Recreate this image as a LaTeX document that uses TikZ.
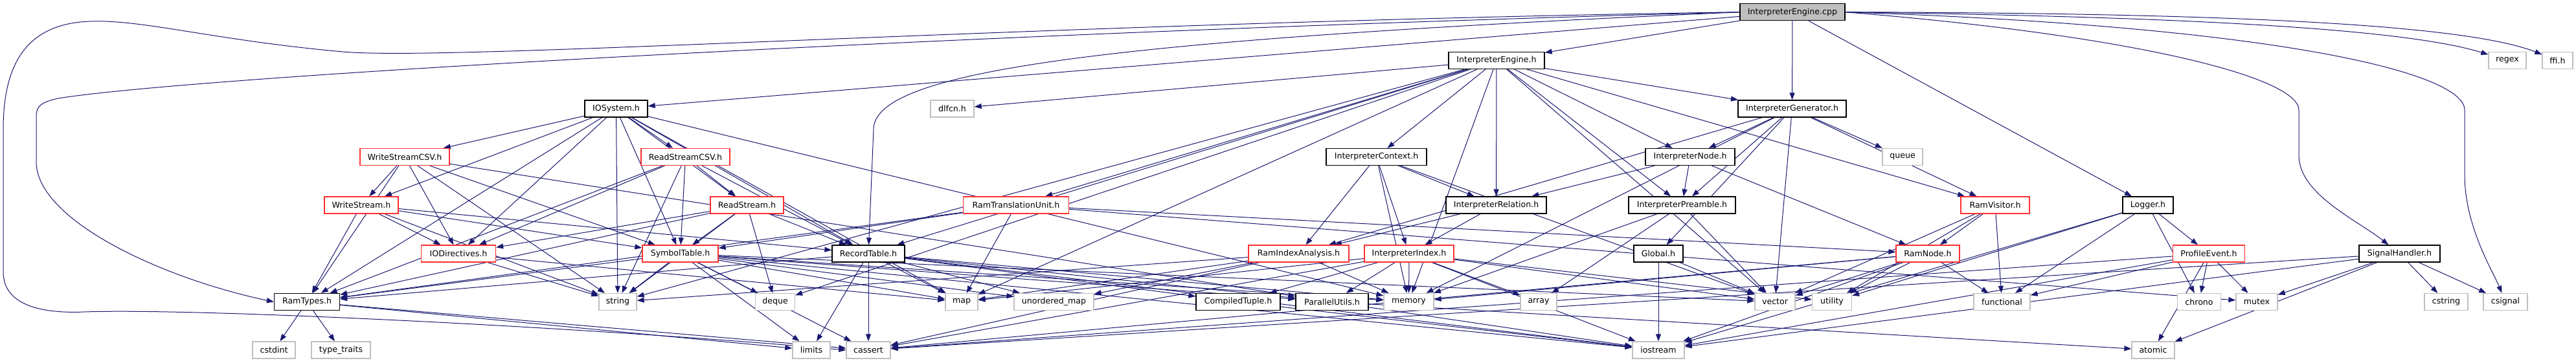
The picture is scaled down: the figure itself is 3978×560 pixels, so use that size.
\documentclass[tikz,border=0pt]{standalone}
\usepackage{fontspec}
\newfontfamily\djv{DejaVu Sans}
\usetikzlibrary{arrows.meta}
\pgfdeclarelayer{bg}
\pgfsetlayers{bg,main}
\definecolor{edgec}{HTML}{191970}
\definecolor{sysg}{HTML}{BFBFBF}
\definecolor{trunc}{HTML}{FF3030}
\tikzset{
  hn/.style={draw=black, fill=white, line width=1.3pt, minimum height=26pt, inner sep=0pt,
    font={\djv\fontsize{12.6}{14}\selectfont}},
  rn/.style={hn, draw=trunc},
  sn/.style={hn, draw=sysg},
  e/.style={draw=edgec, line width=1pt, -{Triangle[length=11pt,width=8pt]}}
}
\begin{document}
\begin{tikzpicture}[x=1pt,y=-1pt]
\useasboundingbox (0,0) rectangle (3978,560);
% rank 0
\node[hn, fill=sysg, minimum width=162pt] (cpp) at (2768,18.7) {InterpreterEngine.cpp};
% rank 1
\node[hn, minimum width=148pt] (IEh) at (2311,93.5) {InterpreterEngine.h};
\node[sn, minimum width=58pt] (regex) at (3872,93.5) {regex};
\node[sn, minimum width=47pt] (ffi) at (3949.5,93.5) {ffi.h};
% rank 2
\node[hn, minimum width=97pt] (IOSys) at (951.5,168) {IOSystem.h};
\node[sn, minimum width=67pt] (dlfcn) at (1470.5,168) {dlfcn.h};
\node[hn, minimum width=167pt] (IGen) at (2767.5,168) {InterpreterGenerator.h};
% rank 3
\node[rn, minimum width=138pt] (WSCSV) at (625,242.5) {WriteStreamCSV.h};
\node[rn, minimum width=137pt] (RSCSV) at (1058.5,242.5) {ReadStreamCSV.h};
\node[hn, minimum width=155pt] (ICtx) at (2125.5,242.5) {InterpreterContext.h};
\node[hn, minimum width=138pt] (INode) at (2610,242.5) {InterpreterNode.h};
\node[sn, minimum width=62pt] (queue) at (2938,242.5) {queue};
% rank 4
\node[rn, minimum width=114pt] (WS) at (558,317) {WriteStream.h};
\node[rn, minimum width=113pt] (RS) at (1153.5,317) {ReadStream.h};
\node[rn, minimum width=163pt] (RTU) at (1569,317) {RamTranslationUnit.h};
\node[hn, minimum width=155pt] (IRel) at (2310.5,317) {InterpreterRelation.h};
\node[hn, minimum width=165pt] (IPre) at (2597.5,317) {InterpreterPreamble.h};
\node[rn, minimum width=106pt] (RVis) at (3081,317) {RamVisitor.h};
\node[hn, minimum width=78pt] (Logger) at (3317,317) {Logger.h};
% rank 5
\node[rn, minimum width=115pt] (IODir) at (708,392) {IODirectives.h};
\node[rn, minimum width=117pt] (SymT) at (1050.5,392) {SymbolTable.h};
\node[hn, minimum width=112pt] (RecT) at (1341,392) {RecordTable.h};
\node[rn, minimum width=155pt] (RIA) at (2005.5,392) {RamIndexAnalysis.h};
\node[rn, minimum width=138pt] (IIdx) at (2176,392) {InterpreterIndex.h};
\node[hn, minimum width=76pt] (Global) at (2561,392) {Global.h};
\node[rn, minimum width=98pt] (RNode) at (2977,392) {RamNode.h};
\node[rn, minimum width=111pt] (PEv) at (3411,392) {ProfileEvent.h};
\node[hn, minimum width=125pt] (SigH) at (3705.5,392) {SignalHandler.h};
% rank 6
\node[hn, minimum width=101pt] (RamTypes) at (474,466.5) {RamTypes.h};
\node[sn, minimum width=58pt] (string) at (954,466.5) {string};
\node[sn, minimum width=61pt] (deque) at (1197,466.5) {deque};
\node[sn, minimum width=50pt] (map) at (1485,466.5) {map};
\node[sn, minimum width=123pt] (umap) at (1627.5,466.5) {unordered\_map};
\node[hn, minimum width=130pt] (CT) at (1912,466.5) {CompiledTuple.h};
\node[hn, minimum width=112pt] (PU) at (2057,466.5) {ParallelUtils.h};
\node[sn, minimum width=77pt] (memory) at (2175.5,466.5) {memory};
\node[sn, minimum width=56pt] (array) at (2376,466.5) {array};
\node[sn, minimum width=62pt] (vector) at (2741,466.5) {vector};
\node[sn, minimum width=61pt] (utility) at (2829,466.5) {utility};
\node[sn, minimum width=87pt] (functional) at (3091.5,466.5) {functional};
\node[sn, minimum width=67pt] (chrono) at (3396,466.5) {chrono};
\node[sn, minimum width=64pt] (mutex) at (3485,466.5) {mutex};
\node[sn, minimum width=67pt] (cstring) at (3777.5,466.5) {cstring};
\node[sn, minimum width=68pt] (csignal) at (3869,466.5) {csignal};
% rank 7
\node[sn, minimum width=66pt] (cstdint) at (423,541) {cstdint};
\node[sn, minimum width=91pt] (tt) at (526.5,541) {type\_traits};
\node[sn, minimum width=58pt] (limits) at (1253,541) {limits};
\node[sn, minimum width=68pt] (cassert) at (1341,541) {cassert};
\node[sn, minimum width=80pt] (iostream) at (2561,541) {iostream};
\node[sn, minimum width=66pt] (atomic) at (3325,541) {atomic};

\begin{pgfonlayer}{bg}
% curved edges from the root
\draw[e] (cpp.west) .. controls (1600,35) and (700,95) .. (529,80)
  .. controls (330,62) and (220,30) .. (140,33)
  .. controls (40,36) and (5,100) .. (5,200) -- (5,420)
  .. controls (5,470) and (60,485) .. (130,482)
  .. controls (300,476) and (900,505) .. (cassert.west);
\draw[e] (cpp.west) .. controls (1500,50) and (300,118) .. (90,152)
  .. controls (62,158) and (56,165) .. (56,180) -- (56,250)
  .. controls (56,340) and (250,430) .. (RamTypes.west);
\draw[e] (cpp.west) .. controls (1700,62) and (1349,110) .. (1349,200) -- (RecT);
\draw[e] (cpp.east) .. controls (3300,55) and (3550,120) .. (3550,170) -- (3550,240)
  .. controls (3550,300) and (3640,340) .. (SigH);
\draw[e] (cpp.east) .. controls (3500,40) and (3806,110) .. (3806,170) -- (3806,270)
  .. controls (3806,350) and (3850,420) .. (csignal);
\draw[e] (cpp.east) .. controls (3300,25) and (3700,40) .. (regex);
\draw[e] (cpp.east) .. controls (3400,20) and (3800,35) .. (ffi);
% straight edges
\foreach \a/\b in {
  cpp/IEh, cpp/IGen, cpp/IOSys, cpp/Logger,
  IEh/ICtx, IEh/IGen, IEh/INode, IEh/IPre, IEh/IRel, IEh/RTU, IEh/RVis, IEh/RecT,
  IEh/dlfcn, IEh/map, IEh/memory, IEh/vector, IEh/deque, IEh/string,
  IOSys/WSCSV, IOSys/RSCSV, IOSys/WS, IOSys/RS, IOSys/IODir, IOSys/SymT, IOSys/RecT,
  IOSys/RamTypes, IOSys/map, IOSys/memory, IOSys/string,
  IGen/INode, IGen/IPre, IGen/RIA, IGen/RVis, IGen/Global, IGen/queue, IGen/memory, IGen/vector,
  ICtx/IRel, ICtx/RIA, ICtx/IIdx, ICtx/memory, ICtx/vector,
  INode/IRel, INode/IPre, INode/RNode,
  IPre/memory, IPre/array, IPre/vector,
  IRel/IIdx, IRel/RIA,
  RVis/RNode, RVis/functional, RVis/vector, RVis/utility,
  Logger/PEv, Logger/chrono, Logger/functional, Logger/iostream, Logger/utility,
  PEv/chrono, PEv/mutex, PEv/atomic, PEv/functional, PEv/iostream, PEv/cassert,
  SigH/mutex, SigH/cstring, SigH/csignal, SigH/atomic, SigH/iostream, SigH/cassert,
  RNode/functional, RNode/vector, RNode/utility, RNode/iostream, RNode/cassert, RNode/memory,
  Global/iostream, Global/vector,
  RIA/memory, RIA/map, RIA/string, RIA/cassert, RIA/umap,
  IIdx/PU, IIdx/memory, IIdx/array, IIdx/vector, IIdx/utility, IIdx/map, IIdx/CT,
  IIdx/cassert, IIdx/iostream,
  RecT/RamTypes, RecT/limits, RecT/cassert, RecT/map, RecT/umap, RecT/CT, RecT/PU,
  RecT/memory, RecT/iostream,
  SymT/RamTypes, SymT/PU, SymT/deque, SymT/map, SymT/umap, SymT/string, SymT/vector,
  SymT/memory, SymT/cassert, SymT/iostream, SymT/limits,
  RS/IODir, RS/RamTypes, RS/SymT, RS/RecT, RS/string, RS/deque,
  RSCSV/RS, RSCSV/SymT, RSCSV/RecT, RSCSV/IODir, RSCSV/RamTypes, RSCSV/string,
  WS/IODir, WS/RamTypes, WS/SymT, WS/RecT, WS/string,
  WSCSV/WS, WSCSV/IODir, WSCSV/RamTypes, WSCSV/SymT, WSCSV/string, WSCSV/PU,
  IODir/map, IODir/string,
  RamTypes/cstdint, RamTypes/tt, RamTypes/limits, RamTypes/cassert,
  RTU/SymT, RTU/map, RTU/RamTypes, RTU/mutex, RTU/RNode,
  PU/iostream, PU/atomic, CT/iostream}
  \draw[e] (\a) -- (\b);
\end{pgfonlayer}
\end{tikzpicture}
\end{document}
